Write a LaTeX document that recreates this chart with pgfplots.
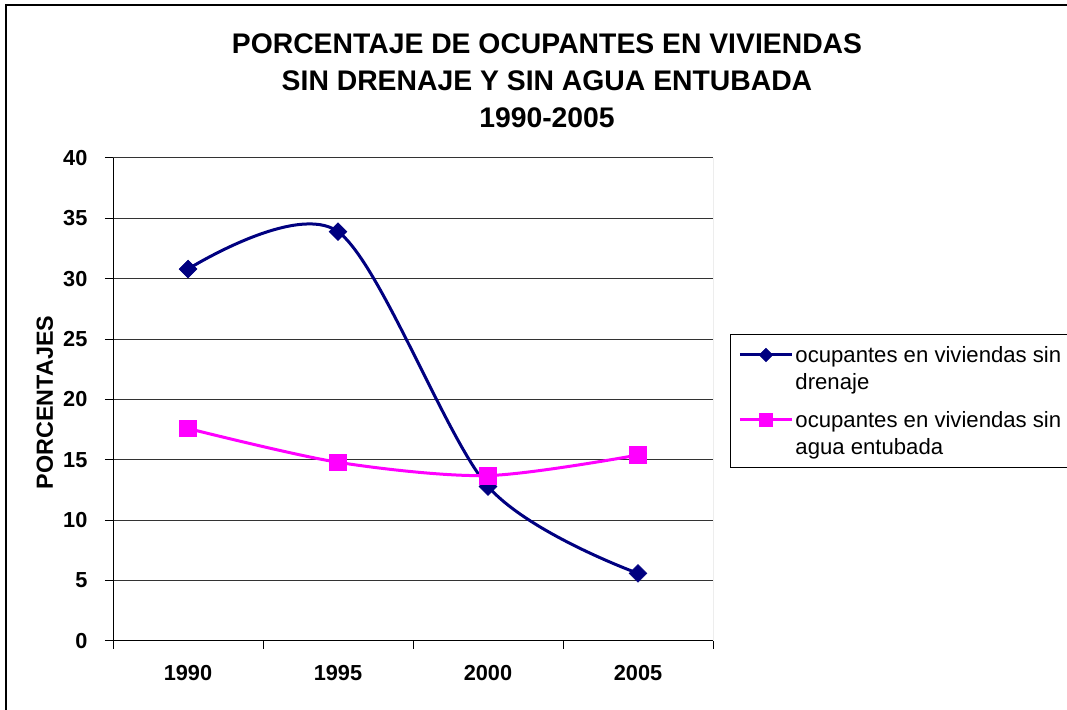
\documentclass[border=0pt]{standalone}
\usepackage{fontspec}
\setmainfont{Liberation Sans}
\usepackage{pgfplots}
\pgfplotsset{compat=1.18}
\definecolor{navyc}{RGB}{0,0,128}
\definecolor{pinkc}{RGB}{255,0,255}
\newcommand{\lA}[1]{\makebox[240pt][l]{\rule[-5pt]{0pt}{24.8pt}#1}}
\newcommand{\lB}[1]{\makebox[240pt][l]{\rule[-8.5pt]{0pt}{23.9pt}#1}}
\begin{document}
\begin{tikzpicture}
\useasboundingbox (0,0) rectangle (800.25pt,532.5pt);
\clip (0,0) rectangle (800.25pt,532.5pt);
\draw[line width=1.5pt] (4.5pt,-20pt) rectangle (820pt,528.75pt);
\node[anchor=base, align=center, font=\fontsize{21.25}{28.1}\selectfont\bfseries] at (410.25pt,436.5pt)
  {PORCENTAJE DE OCUPANTES EN VIVIENDAS\\SIN DRENAJE Y SIN AGUA ENTUBADA\\1990-2005};
\begin{axis}[
  at={(84.75pt,51.75pt)}, anchor=south west,
  scale only axis, width=450pt, height=362.25pt,
  xmin=-0.5, xmax=3.5, ymin=0, ymax=40,
  axis lines*=left,
  axis line style={black, line width=0.75pt},
  xtick={-0.5,0.5,1.5,2.5,3.5}, xticklabels={,,,,,},
  extra x ticks={0,1,2,3},
  extra x tick labels={1990,1995,2000,2005},
  extra x tick style={major tick length=0pt, grid=none},
  ytick={0,5,...,40},
  tick align=outside, major tick length=6pt,
  tick style={black, line width=0.75pt},
  ymajorgrids, grid style={black!80, line width=0.75pt},
  tick label style={font=\fontsize{16.3}{19}\selectfont\bfseries},
  /pgf/number format/assume math mode=true,
  yticklabel style={anchor=east, inner sep=0pt, xshift=-13pt},
  xticklabel style={anchor=north, inner sep=0pt, yshift=-18pt},
  ylabel={PORCENTAJES},
  every axis y label/.style={at={(axis description cs:-0.1,0.494)}, rotate=90, anchor=base,
     font=\fontsize{17.5}{20}\selectfont\bfseries},
  legend style={at={(axis description cs:1.0283,0.6356)}, anchor=north west,
    draw=black, line width=0.75pt, inner xsep=6pt, inner ysep=1pt,
    nodes={inner sep=0pt, text depth=}, column sep=1.5pt, row sep=0pt,
    cells={anchor=base west},
    font=\fontsize{16.6}{20.25}\selectfont},
  legend image code/.code={\draw[mark repeat=2,mark phase=2,#1,every mark/.append style={scale=0.75}]
     plot coordinates {(0pt,5.5pt) (19.5pt,5.5pt) (39pt,5.5pt)};},
]
\addplot[navyc, line width=2.25pt, smooth, tension=0.5,
  mark=square*, mark size=4.7pt,
  mark options={solid, rotate=45, line width=0.5pt, fill=navyc}]
  coordinates {(0,30.8) (1,33.9) (2,12.8) (3,5.6)};
\addlegendentry{\lA{ocupantes en viviendas sin}}
\addlegendimage{empty legend}
\addlegendentry{\lB{drenaje}}
\addplot[pinkc, line width=2.25pt, smooth, tension=0.5,
  mark=square*, mark size=6.2pt,
  mark options={solid, line width=0.5pt, fill=pinkc}]
  coordinates {(0,17.6) (1,14.8) (2,13.7) (3,15.4)};
\addlegendentry{\lA{ocupantes en viviendas sin}}
\addlegendimage{empty legend}
\addlegendentry{\lB{agua entubada}}
\draw[black!55, line width=0.75pt] (rel axis cs:1,0) -- (rel axis cs:1,1);
\end{axis}
\end{tikzpicture}
\end{document}
